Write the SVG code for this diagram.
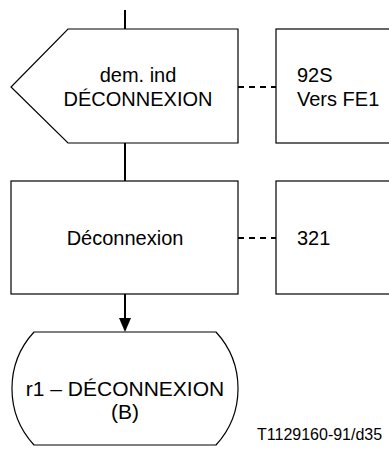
<svg xmlns="http://www.w3.org/2000/svg" width="389" height="449" viewBox="0 0 389 449">
<style>
.s{fill:#fff;stroke:#000;stroke-width:1.2}
.t{font-family:"Liberation Sans",Arial,sans-serif;font-size:20px;fill:#000}
.c{stroke:#000;stroke-width:2;fill:none}
.d{stroke:#000;stroke-width:2;fill:none;stroke-dasharray:6,5}
</style>
<rect width="389" height="449" fill="#fff"/>
<g id="connectors">
<line class="c" x1="125" y1="10" x2="125" y2="29"/>
<line class="c" x1="125" y1="143" x2="125" y2="181"/>
<line class="c" x1="125" y1="294" x2="125" y2="318"/>
<path d="M119,318 L131,318 L125,332 Z" fill="#000"/>
<line class="d" x1="238" y1="87" x2="276" y2="87"/>
<line class="d" x1="238" y1="238" x2="276" y2="238"/>
</g>
<g id="n1">
<path class="s" d="M68,29 L238,29 L238,143 L68,143 L11,87 Z"/>
<text class="t" x="138" y="82" text-anchor="middle">dem. ind</text>
<text class="t" x="138" y="106" text-anchor="middle">DÉCONNEXION</text>
</g>
<g id="n2">
<rect class="s" x="276" y="29" width="130" height="114"/>
<text class="t" x="297" y="82">92S</text>
<text class="t" x="297" y="106">Vers FE1</text>
</g>
<g id="n3">
<rect class="s" x="11" y="181" width="227" height="113"/>
<text class="t" x="125" y="245" text-anchor="middle">Déconnexion</text>
</g>
<g id="n4">
<rect class="s" x="276" y="181" width="130" height="113"/>
<text class="t" x="297" y="245">321</text>
</g>
<g id="n5">
<path class="s" d="M34,332 L216,332 A83.5,83.5 0 0 1 216,445 L34,445 A83.5,83.5 0 0 1 34,332 Z"/>
<text class="t" x="125" y="396" text-anchor="middle" style="font-size:21px">r1 – DÉCONNEXION</text>
<text class="t" x="125" y="419" text-anchor="middle" style="font-size:21px">(B)</text>
</g>
<text x="257" y="440" font-family="'Liberation Sans',Arial,sans-serif" font-size="16" fill="#000">T1129160-91/d35</text>
</svg>
